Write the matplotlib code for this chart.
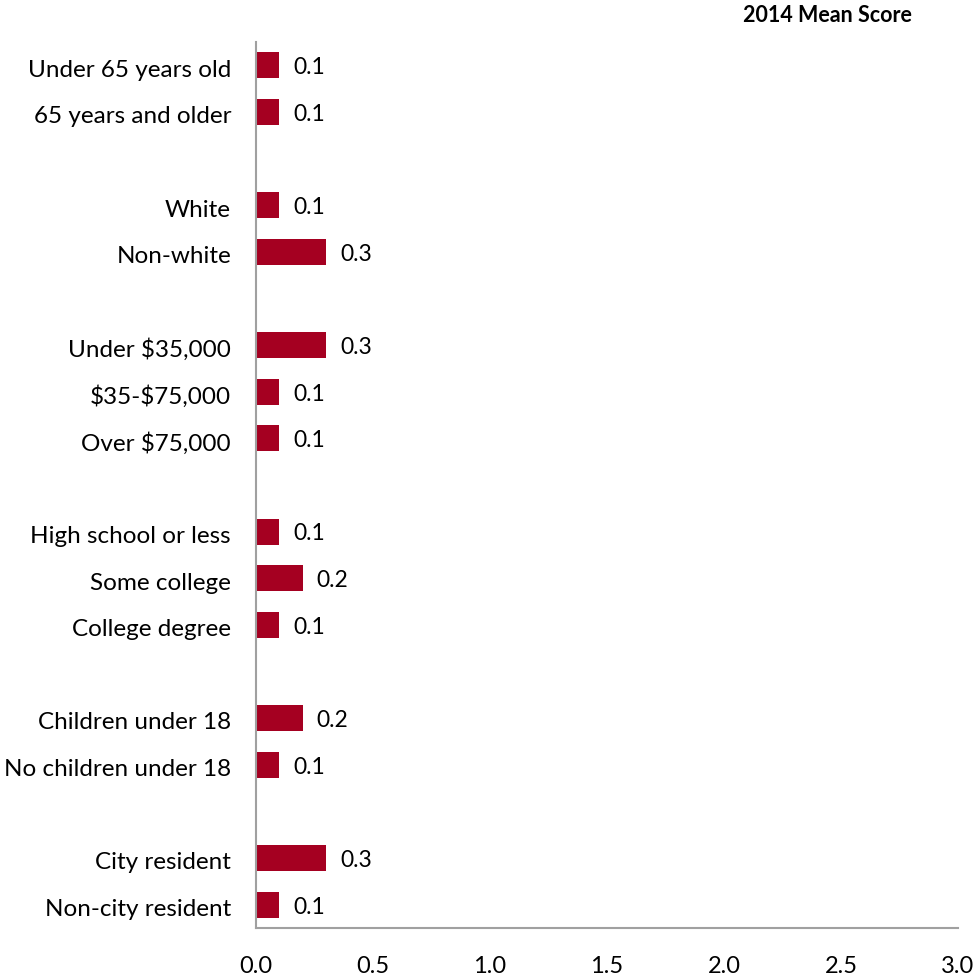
import matplotlib.pyplot as plt

categories = [
    "Under 65 years old", "65 years and older", None,
    "White", "Non-white", None,
    "Under $35,000", "$35-$75,000", "Over $75,000", None,
    "High school or less", "Some college", "College degree", None,
    "Children under 18", "No children under 18", None,
    "City resident", "Non-city resident",
]
scores = [0.1, 0.1, None, 0.1, 0.3, None, 0.3, 0.1, 0.1, None,
          0.1, 0.2, 0.1, None, 0.2, 0.1, None, 0.3, 0.1]
ticks = [0.0, 0.5, 1.0, 1.5, 2.0, 2.5, 3.0]

BAR = "#A50021"
plt.rcParams["font.family"] = ["Lato", "DejaVu Sans"]
plt.rcParams["text.parse_math"] = False

fig = plt.figure(figsize=(9.8, 9.76), dpi=100)
ax = fig.add_axes([256 / 980, 1 - 928 / 976, (958 - 256) / 980, (928 - 42) / 976])

for i, (lab, v) in enumerate(zip(categories, scores)):
    if v is None:
        continue
    ax.barh(i, v, height=0.56, color=BAR)
    ax.text(v + 0.06, i + 0.05, f"{v:.1f}", va="center", ha="left", fontsize=16.5)

ax.set_ylim(len(categories) - 0.5, -0.5)
ax.set_xlim(0, 3.0)
ax.set_yticks([i + 0.06 for i, c in enumerate(categories) if c])
ax.set_yticklabels([c for c in categories if c], fontsize=17.5)
ax.set_xticks(ticks)
ax.set_xticklabels([f"{t:.1f}" for t in ticks], fontsize=17)
ax.tick_params(length=0, pad=18, axis="y")
ax.tick_params(length=0, pad=20, axis="x")
for s in ["top", "right"]:
    ax.spines[s].set_visible(False)
for s in ["left", "bottom"]:
    ax.spines[s].set_color("#A0A0A0")
    ax.spines[s].set_linewidth(1.5)

fig.text(912 / 980, 1 - 15 / 976, "2014 Mean Score", ha="right", va="center",
         fontsize=15.5, fontweight="bold")

fig.savefig("out.png", dpi=100)
